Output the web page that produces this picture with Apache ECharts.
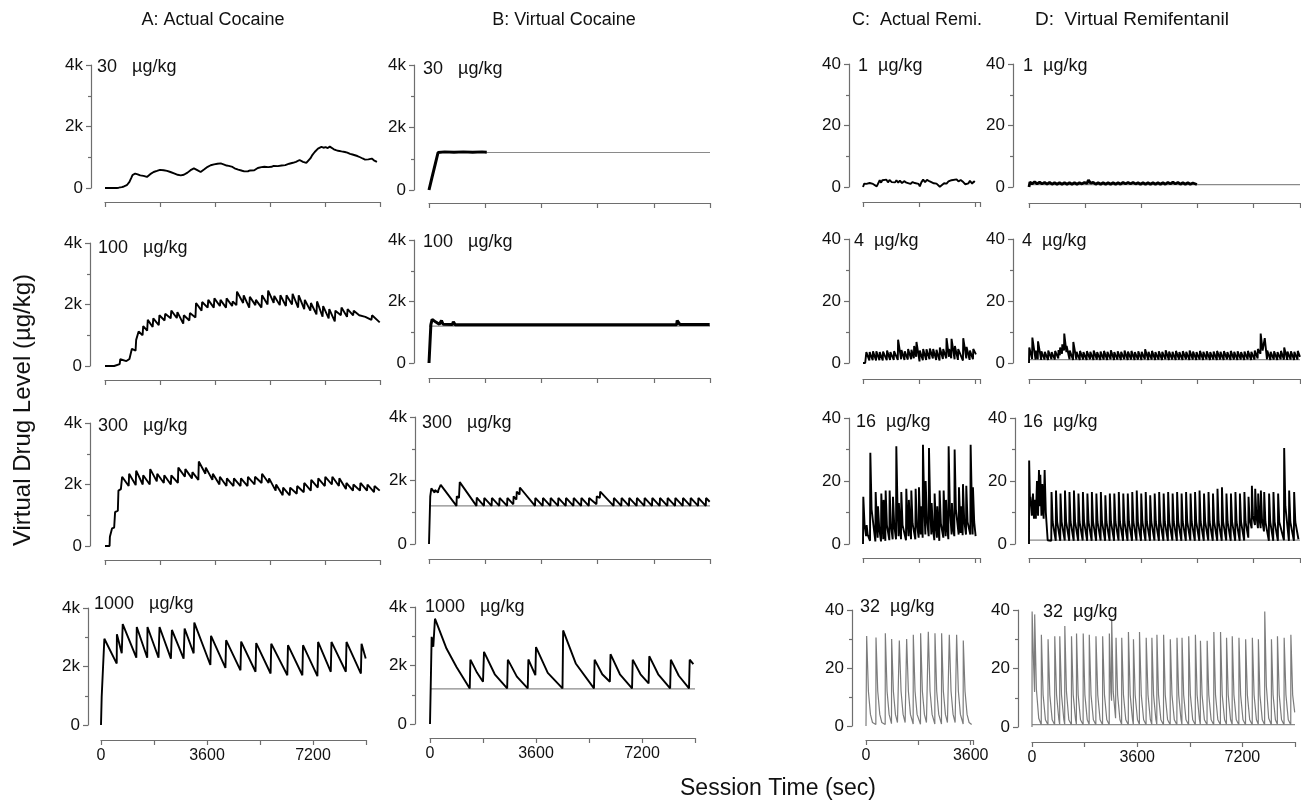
<!DOCTYPE html>
<html><head><meta charset="utf-8">
<script src="https://cdn.jsdelivr.net/npm/echarts@6.0.0/dist/echarts.min.js"></script>
<style>html,body{margin:0;padding:0;background:#fff}#c{width:1301px;height:802px}</style>
</head><body><div id="c"></div>
<script>
// ---------------- DATA ----------------
const columnTitles = ['A: Actual Cocaine', 'B: Virtual Cocaine', 'C:  Actual Remi.', 'D:  Virtual Remifentanil'];
const cocaineDoses = ['30', '100', '300', '1000'];
const remiDoses = ['1', '4', '16', '32'];
const unitText = 'µg/kg';
const yTitle = 'Virtual Drug Level (µg/kg)';
const xTitle = 'Session Time (sec)';

// Column A: actual cocaine (t sec, level µg/kg)
const a30 = [[0,0],[384,0],[450,10],[550,30],[620,50],[714,90],[760,140],[800,200],[860,330],[900,420],[933,410],[960,470],[988,470],[1030,430],[1070,445],[1110,400],[1153,410],[1200,380],[1260,395],[1310,350],[1372,360],[1420,420],[1480,450],[1530,470],[1592,520],[1650,510],[1700,555],[1750,560],[1800,590],[1860,555],[1921,576],[1980,540],[2030,555],[2090,500],[2141,520],[2200,480],[2260,475],[2320,450],[2380,430],[2430,450],[2480,410],[2530,440],[2580,430],[2640,480],[2700,500],[2750,540],[2800,580],[2860,610],[2910,640],[2960,590],[3020,580],[3080,530],[3129,520],[3180,560],[3240,600],[3300,640],[3360,690],[3420,720],[3459,740],[3520,730],[3570,770],[3620,760],[3680,790],[3740,770],[3788,800],[3840,750],[3900,760],[3980,730],[4050,720],[4100,690],[4172,685],[4240,640],[4300,620],[4360,600],[4420,580],[4490,560],[4557,540],[4620,560],[4680,545],[4750,570],[4810,590],[4886,576],[4950,610],[5000,650],[5050,630],[5120,680],[5170,660],[5216,690],[5280,700],[5340,680],[5400,700],[5450,690],[5520,720],[5580,705],[5655,710],[5720,740],[5780,730],[5840,760],[5900,745],[5960,780],[6030,790],[6094,800],[6150,820],[6200,810],[6250,850],[6300,880],[6368,910],[6420,870],[6480,850],[6540,830],[6588,815],[6650,870],[6720,960],[6790,1080],[6863,1170],[6920,1230],[6970,1280],[7020,1300],[7083,1337],[7150,1310],[7220,1330],[7290,1300],[7357,1345],[7420,1290],[7490,1260],[7560,1230],[7631,1210],[7690,1220],[7740,1190],[7800,1200],[7851,1170],[7930,1150],[8020,1110],[8100,1090],[8180,1065],[8260,1040],[8350,1000],[8430,960],[8510,924],[8570,950],[8620,930],[8680,960],[8730,956],[8800,900],[8900,850]];
const a100 = [[0,0],[300,0],[310,60],[480,60],[500,220],[700,160],[800,230],[860,220],[880,560],[1000,500],[1020,850],[1080,800],[1100,1120],[1230,1000],[1250,1300],[1380,1150],[1400,1500],[1560,1270],[1580,1550],[1760,1330],[1780,1650],[1950,1480],[1970,1700],[2150,1550],[2170,1800],[2350,1560],[2370,1750],[2560,1380],[2580,1650],[2760,1480],[2780,1720],[2960,1580],[2980,2050],[3160,1800],[3180,2080],[3360,1900],[3380,2150],[3560,1900],[3580,2200],[3760,1950],[3780,2150],[3960,1900],[3980,2200],[4160,1950],[4180,2100],[4300,1980],[4320,2420],[4520,2050],[4540,2300],[4720,1900],[4740,2250],[4920,1980],[4940,2150],[5120,1900],[5140,2300],[5320,2000],[5340,2450],[5520,2050],[5540,2280],[5720,1980],[5740,2300],[5920,1950],[5940,2300],[6120,2000],[6140,2350],[6320,1900],[6340,2300],[6520,1850],[6540,2150],[6720,1800],[6740,2050],[6920,1680],[6940,2100],[7120,1600],[7140,1950],[7320,1550],[7340,1850],[7520,1450],[7540,1800],[7720,1650],[7740,1900],[7920,1600],[7940,1850],[8120,1650],[8140,1800],[8320,1650],[8340,1700],[8520,1600],[8540,1650],[8720,1500],[8740,1650],[8990,1420]];
const a300 = [[0,0],[150,0],[160,300],[220,300],[230,570],[300,600],[330,1100],[420,1150],[440,1800],[520,1850],[560,2250],[775,1950],[790,2350],[1005,1980],[1020,2450],[1235,2000],[1250,2300],[1465,2000],[1480,2500],[1695,2100],[1710,2350],[1925,2050],[1940,2300],[2155,2000],[2170,2300],[2385,2050],[2400,2550],[2615,2250],[2630,2500],[2845,2200],[2860,2400],[3055,2150],[3070,2750],[3285,2350],[3300,2550],[3515,2150],[3530,2350],[3745,2000],[3760,2250],[3975,1950],[3990,2200],[4205,1950],[4220,2200],[4435,1950],[4450,2200],[4665,1950],[4680,2250],[4895,2000],[4910,2250],[5125,2050],[5140,2350],[5355,2050],[5370,2200],[5585,1800],[5600,2000],[5815,1650],[5830,1900],[6045,1650],[6060,1900],[6275,1700],[6290,1950],[6505,1750],[6520,2050],[6735,1800],[6750,2150],[6965,1900],[6980,2200],[7195,1950],[7210,2250],[7425,2000],[7440,2250],[7655,1950],[7670,2200],[7885,1850],[7900,2050],[8115,1800],[8130,2000],[8345,1800],[8360,2050],[8575,1800],[8590,2000],[8805,1750],[8820,1950],[8990,1800]];
const a1000 = [[0,0],[10,0],[23,960],[80,960],[114,2950],[534,2100],[540,3100],[704,2450],[738,3450],[1200,2300],[1215,3350],[1570,2300],[1579,3350],[1954,2300],[1988,3350],[2374,2270],[2408,3250],[2806,2270],[2840,3300],[3147,2450],[3169,3500],[3715,2050],[3737,3050],[4226,1950],[4249,2900],[4737,1870],[4760,2850],[5248,1820],[5271,2800],[5760,1760],[5782,2780],[6328,1700],[6350,2730],[6839,1700],[6861,2730],[7350,1670],[7373,2840],[7804,1820],[7827,2840],[8316,1820],[8338,2840],[8827,1760],[8849,2780],[8990,2270]];

// Column B: virtual cocaine
const b30 = [[0,0],[100,420],[200,830],[290,1200],[500,1220],[800,1210],[1100,1220],[1400,1210],[1700,1220],[1850,1210]];
const b100 = [[0,0],[60,1250],[100,1420],[150,1460],[220,1330],[260,1390],[330,1260],[370,1250],[400,1380],[450,1260],[750,1250],[780,1340],[840,1240],[7930,1240],[7950,1380],[8040,1250],[8990,1250]];
const b300 = [[0,0],[40,1500],[75,1750],[180,1620],[190,1700],[290,1620],[300,1700],[375,1860],[880,1200],[890,1500],[960,1450],[985,1950],[1520,1200],[1530,1460],[1760,1200],[1770,1450],[2005,1200],[2015,1450],[2250,1200],[2260,1450],[2500,1200],[2510,1450],[2700,1250],[2710,1500],[2800,1400],[2810,1650],[2900,1560],[2910,1780],[3395,1200],[3405,1450],[3641,1200],[3651,1450],[3887,1200],[3897,1450],[4133,1200],[4143,1450],[4379,1200],[4389,1450],[4625,1200],[4635,1450],[4871,1200],[4881,1450],[5117,1200],[5127,1450],[5363,1250],[5373,1500],[5470,1450],[5484,1650],[5912,1200],[5922,1450],[6158,1200],[6168,1450],[6404,1200],[6414,1450],[6650,1200],[6660,1450],[6896,1200],[6906,1450],[7142,1200],[7152,1450],[7388,1200],[7398,1450],[7634,1200],[7644,1450],[7880,1200],[7890,1450],[8126,1200],[8136,1450],[8372,1200],[8382,1450],[8618,1200],[8628,1450],[8864,1200],[8874,1450],[8990,1330]];
const b1000 = [[0,0],[20,1050],[40,1050],[56,2980],[112,2640],[160,2640],[169,3600],[560,2580],[900,1950],[1350,1216],[1372,2200],[1600,1750],[1800,1443],[1834,2466],[2200,1700],[2621,1216],[2644,2200],[2950,1620],[3319,1216],[3341,2205],[3578,1670],[3600,2630],[4000,1750],[4500,1216],[4522,3200],[4950,2070],[5569,1216],[5591,2200],[5850,1700],[6109,1443],[6131,2386],[6450,1700],[6862,1216],[6885,2200],[7150,1700],[7425,1386],[7447,2318],[7750,1700],[8156,1216],[8179,2200],[8450,1650],[8797,1216],[8820,2200],[8944,2045]];
const bRef30 = [[290,1200],[9000,1200]];
const bRef = [[0,1200],[9000,1200]];

// Column C: actual remifentanil
const c1 = [[0,0],[40,1.1],[80,0.6],[110,1.0],[160,0.7],[214,1.3],[260,0.8],[321,1.0],[380,0.4],[440,0.2],[482,0.1],[536,2.2],[580,1.4],[620,2.2],[680,1.6],[750,2.4],[800,1.5],[850,2.3],[920,1.6],[980,2.2],[1030,1.5],[1071,2.2],[1130,1.4],[1180,2.1],[1250,1.3],[1320,1.9],[1392,1.4],[1450,1.8],[1520,1.0],[1590,1.6],[1660,1.3],[1720,0.7],[1780,1.0],[1821,0.2],[1870,1.5],[1928,2.4],[1990,1.6],[2050,2.3],[2142,1.8],[2200,2.2],[2270,1.2],[2356,1.1],[2410,0.5],[2463,0.1],[2520,0.6],[2600,1.2],[2678,1.1],[2740,1.8],[2838,2.2],[2900,1.6],[2999,2.5],[3060,1.8],[3130,2.3],[3213,1.6],[3280,0.9],[3320,0.3],[3380,1.2],[3427,2.0],[3500,1.1],[3550,1.8],[3588,1.6]];
const c4 = [[0,0],[70,0],[100,0.3],[107,3.5],[204,0.8],[214,3.5],[311,0.9],[321,3.8],[418,0.8],[428,3.8],[526,0.9],[536,3.5],[633,0.8],[643,3.7],[761,0.9],[771,4.0],[868,1.0],[878,3.5],[986,1.0],[996,3.8],[1115,1.0],[1125,7.5],[1222,1.2],[1232,4.2],[1329,1.0],[1339,3.8],[1436,1.1],[1446,4.5],[1543,1.2],[1553,4.3],[1629,1.5],[1639,5.5],[1704,2.0],[1714,6.8],[1811,0.5],[1821,4.0],[1918,0.9],[1928,4.5],[2025,1.0],[2035,4.4],[2132,1.2],[2142,4.7],[2239,1.5],[2249,4.5],[2346,1.0],[2356,4.3],[2453,0.8],[2463,5.0],[2560,1.3],[2570,4.5],[2668,1.5],[2678,8.0],[2753,2.0],[2763,4.5],[2828,1.5],[2838,7.8],[2935,1.2],[2945,5.5],[3042,1.0],[3052,4.5],[3203,0.8],[3213,8.0],[3310,1.5],[3320,5.2],[3417,1.0],[3427,4.0],[3524,1.2],[3534,4.5],[3620,2.8]];
const c16 = [[0,0],[10,15],[50,6],[100,2.5],[107,2.5],[117,6],[150,3],[225,1],[235,29],[275,11],[396,0.8],[406,16.5],[446,6],[470,2],[480,12],[520,5],[577,0.8],[587,16],[627,6],[650,1.5],[660,14],[700,5],[716,1],[726,17],[766,6],[844,1.2],[854,17],[894,6],[951,1.5],[961,15],[1001,6],[1058,1.5],[1068,31],[1108,11],[1140,2.5],[1150,13],[1190,5],[1218,1.5],[1228,16.5],[1268,6],[1378,1.2],[1388,17.5],[1428,6.5],[1460,2.5],[1470,14],[1510,5.5],[1539,1.5],[1549,17],[1589,6.5],[1677,1.5],[1687,17.5],[1727,6.5],[1784,2],[1794,18],[1834,7],[1850,3],[1860,12],[1900,5],[1912,2],[1922,31.5],[1962,12],[1998,3],[2008,20],[2048,8],[2105,2.5],[2115,30.5],[2155,11],[2190,3],[2200,13],[2240,5],[2286,1.2],[2296,16],[2336,6],[2370,2],[2380,12],[2420,4.5],[2446,1],[2456,17],[2496,6.5],[2575,2],[2585,17],[2625,6.5],[2650,2.5],[2660,14],[2700,5.5],[2735,1.5],[2745,31],[2785,11],[2840,3],[2850,13],[2890,5],[2927,2.5],[2937,30],[2977,11],[3066,3],[3076,18],[3116,7],[3130,3.5],[3140,12],[3180,5],[3194,2.8],[3204,19],[3244,7.5],[3301,3],[3311,18.5],[3351,7],[3440,3],[3450,31.5],[3490,12],[3514,3],[3524,18],[3564,7],[3610,2.5]];
const c32 = [[0,0],[18,0],[23,31],[83,12],[153,4],[223,1.2],[339,0.5],[344,30.5],[404,12],[474,4],[544,1.2],[660,0.5],[665,32],[725,12],[795,4],[877,0.8],[882,30],[942,12],[1012,4],[1082,1.2],[1141,0.6],[1146,29.5],[1206,12],[1276,4],[1346,1.2],[1393,0.7],[1398,30],[1458,12],[1528,4],[1622,0.7],[1627,31.5],[1687,12],[1757,4],[1874,0.6],[1879,32],[1939,12],[2009,4],[2079,1.2],[2138,0.6],[2143,32.5],[2203,12],[2273,4],[2367,0.7],[2372,32],[2432,12],[2502,4],[2596,0.7],[2601,32],[2661,12],[2731,4],[2801,1.2],[2860,0.6],[2865,31.5],[2925,12],[2995,4],[3065,1.2],[3112,0.7],[3117,31.5],[3177,12],[3247,4],[3341,0.7],[3346,29.5],[3406,12],[3476,4],[3546,1.2],[3633,0.5]];

// Column D: virtual remifentanil
const d1 = [[0,0],[30,1.6],[100,1.0],[180,1.7],[260,1.0],[340,1.6],[420,1.0],[500,1.5],[580,0.9],[660,1.5],[740,0.9],[820,1.4],[900,0.9],[980,1.4],[1060,0.9],[1140,1.4],[1220,0.9],[1300,1.4],[1380,0.9],[1460,1.4],[1540,0.9],[1620,1.4],[1700,1.0],[1780,1.5],[1860,1.1],[1908,2.3],[1980,1.2],[2060,1.5],[2140,0.9],[2220,1.4],[2300,0.9],[2380,1.4],[2460,0.9],[2540,1.4],[2620,0.9],[2700,1.4],[2780,0.9],[2860,1.4],[2940,0.9],[3020,1.5],[3100,1.0],[3180,1.5],[3260,1.0],[3340,1.5],[3420,1.0],[3500,1.4],[3580,0.9],[3660,1.4],[3740,0.9],[3820,1.4],[3900,0.9],[3980,1.4],[4060,0.9],[4140,1.4],[4220,0.9],[4300,1.4],[4380,0.9],[4460,1.5],[4540,1.0],[4620,1.6],[4700,1.0],[4780,1.5],[4860,0.9],[4940,1.4],[5020,0.9],[5100,1.4],[5180,0.9],[5260,1.3],[5390,0.8]];
const d4 = [[0,0],[8,5.0],[100,1.3],[108,8.2],[210,1.1],[218,4.0],[282,1.2],[290,7.0],[390,1.0],[398,3.8],[500,1.1],[508,3.6],[610,1.0],[618,4.0],[720,1.2],[728,3.5],[830,1.1],[838,3.9],[940,1.5],[948,4.2],[990,2.5],[998,5.0],[1060,3.0],[1068,6.0],[1124,4.0],[1132,9.5],[1200,3.5],[1208,5.5],[1300,1.2],[1308,4.0],[1415,1.0],[1423,6.8],[1520,1.1],[1528,3.6],[1630,1.0],[1638,3.9],[1740,1.1],[1748,3.5],[1850,1.0],[1858,3.8],[1960,1.2],[1968,3.6],[2070,1.0],[2078,4.0],[2180,1.1],[2188,3.5],[2290,1.0],[2298,3.7],[2400,1.1],[2408,3.9],[2510,1.0],[2518,3.6],[2620,1.2],[2628,4.1],[2730,1.0],[2738,3.5],[2840,1.1],[2848,3.8],[2950,1.0],[2958,3.6],[3060,1.2],[3068,4.0],[3170,1.0],[3178,3.7],[3280,1.1],[3288,3.9],[3390,1.0],[3398,3.5],[3500,1.1],[3508,3.8],[3610,1.0],[3618,3.6],[3720,1.2],[3728,4.4],[3830,1.0],[3838,3.6],[3940,1.1],[3948,3.9],[4050,1.0],[4058,3.5],[4160,1.1],[4168,3.8],[4270,1.0],[4278,3.6],[4380,1.2],[4388,4.1],[4490,1.0],[4498,3.7],[4600,1.1],[4608,3.6],[4710,1.0],[4718,3.9],[4820,1.1],[4828,3.5],[4930,1.0],[4938,3.8],[5040,1.2],[5048,3.6],[5150,1.0],[5158,4.0],[5260,1.1],[5268,3.7],[5370,1.0],[5378,3.5],[5480,1.1],[5488,3.9],[5590,1.0],[5598,3.6],[5700,1.2],[5708,3.8],[5810,1.0],[5818,3.5],[5920,1.1],[5928,3.7],[6030,1.0],[6038,3.9],[6140,1.1],[6148,3.6],[6250,1.0],[6258,3.8],[6360,1.2],[6368,3.5],[6470,1.0],[6478,3.9],[6580,1.1],[6588,3.6],[6690,1.0],[6698,3.8],[6800,1.1],[6808,3.5],[6910,1.0],[6918,3.7],[7020,1.2],[7028,3.9],[7130,1.0],[7138,3.6],[7240,1.1],[7248,4.0],[7340,1.5],[7348,4.5],[7430,3.0],[7438,9.5],[7500,4.0],[7560,3.5],[7568,8.0],[7640,1.2],[7648,4.0],[7750,1.0],[7758,3.6],[7860,1.1],[7868,3.8],[7970,1.0],[7978,3.5],[8080,1.2],[8088,3.9],[8185,1.1],[8193,5.0],[8290,1.0],[8298,3.7],[8400,1.1],[8408,3.8],[8510,1.0],[8518,3.6],[8620,1.1],[8628,3.9],[8700,2.0]];
const d16 = [[0,0],[5,26.5],[35,12],[43,15],[90,9],[128,16],[160,8],[181,14],[220,8],[256,20],[290,9],[320,23.5],[345,12],[363,22],[400,9],[427,19],[470,8],[502,23.5],[540,10],[600,1.2],[715,1.0],[723,16.5],[760,7],[859,1.0],[867,17],[904,7],[1003,1.0],[1011,16],[1048,7],[1147,1.1],[1155,17],[1192,7],[1291,1.0],[1299,16.5],[1336,7],[1435,1.0],[1443,17],[1480,7],[1579,1.0],[1587,16],[1624,7],[1723,1.1],[1731,16.5],[1768,7],[1867,1.0],[1875,16],[1912,7],[2011,1.0],[2019,16.5],[2056,7],[2155,1.0],[2163,16],[2200,7],[2299,1.1],[2307,16.5],[2344,7],[2443,1.0],[2451,15.5],[2488,7],[2587,1.0],[2595,16],[2632,7],[2731,1.0],[2739,16],[2776,7],[2875,1.1],[2883,16.5],[2920,7],[3019,1.0],[3027,16],[3064,7],[3163,1.0],[3171,16],[3208,7],[3307,1.0],[3315,16.5],[3352,7],[3451,1.1],[3459,17],[3496,7],[3595,1.0],[3603,16],[3640,7],[3739,1.0],[3747,16.5],[3784,7],[3883,1.0],[3891,15.5],[3928,7],[4027,1.1],[4035,16],[4072,7],[4171,1.0],[4179,16.5],[4216,7],[4315,1.0],[4323,16],[4360,7],[4459,1.0],[4467,16.5],[4504,7],[4603,1.1],[4611,16],[4648,7],[4747,1.0],[4755,16.5],[4792,7],[4891,1.0],[4899,16],[4936,7],[5035,1.0],[5043,16.5],[5080,7],[5179,1.1],[5187,16],[5224,7],[5323,1.0],[5331,16.5],[5368,7],[5467,1.0],[5475,17],[5512,7],[5611,1.0],[5619,16],[5656,7],[5755,1.1],[5763,16.5],[5800,7],[5899,1.0],[5907,16],[5944,7],[6043,1.0],[6051,17.5],[6088,7],[6187,1.0],[6195,18],[6232,7],[6331,1.1],[6339,16],[6376,7],[6475,1.0],[6483,16],[6520,7],[6619,1.0],[6627,16.5],[6664,7],[6763,1.0],[6771,16],[6808,7],[6907,1.1],[6915,16.5],[6952,7],[7040,2.0],[7048,15],[7080,8],[7148,5],[7156,18.5],[7190,9],[7254,6],[7262,17.5],[7300,9],[7350,5],[7358,16],[7400,8],[7436,5],[7444,17],[7480,8],[7543,4],[7551,16.5],[7590,7],[7700,1.0],[7708,16],[7745,7],[7840,1.0],[7848,16.5],[7885,7],[7990,1.0],[7998,16],[8035,7],[8184,1.2],[8192,30.5],[8230,12],[8344,1.0],[8352,17],[8390,7],[8504,1.0],[8512,16.5],[8550,7],[8650,1.5]];
const d32 = [[0,0],[4,39.5],[60,20],[88,12],[92,38.5],[150,13],[230,3],[317,0.8],[321,31.5],[380,11],[460,2.5],[546,0.8],[550,30],[610,11],[690,2.5],[775,0.8],[779,31],[840,11],[920,2.5],[947,0.9],[951,31],[1010,11],[1090,2.5],[1119,0.9],[1123,34.5],[1180,12],[1260,2.5],[1348,0.8],[1352,31],[1410,11],[1490,2.5],[1520,0.9],[1524,32],[1580,11],[1660,2.5],[1749,0.8],[1753,32],[1810,11],[1890,2.5],[1956,0.9],[1960,31.5],[2020,11],[2100,2.5],[2185,0.8],[2189,31],[2250,11],[2330,2.5],[2414,0.8],[2418,31],[2480,11],[2560,2.5],[2643,0.8],[2647,32],[2700,12],[2723,9],[2727,37],[2780,12],[2860,3],[2872,2.5],[2876,30.5],[2930,11],[3010,2.5],[3067,0.9],[3071,30.5],[3130,11],[3210,2.5],[3296,0.8],[3300,32.5],[3360,11],[3440,2.5],[3468,0.9],[3472,30],[3530,11],[3610,2.5],[3675,0.9],[3679,32.5],[3740,11],[3820,2.5],[3904,0.8],[3908,30.5],[3970,11],[4050,2.5],[4099,0.9],[4103,30.5],[4160,11],[4240,2.5],[4271,0.9],[4275,31.5],[4330,11],[4410,2.5],[4500,0.8],[4504,31.5],[4560,11],[4640,2.5],[4729,0.8],[4733,30],[4790,11],[4870,2.5],[4958,0.8],[4962,30.5],[5020,11],[5100,2.5],[5130,0.9],[5134,30.5],[5190,11],[5270,2.5],[5359,0.8],[5363,31],[5420,11],[5500,2.5],[5588,0.8],[5592,31.5],[5650,11],[5730,2.5],[5760,0.9],[5764,29.5],[5820,11],[5900,2.5],[5990,0.8],[5994,29.5],[6050,11],[6130,2.5],[6219,0.8],[6223,32.5],[6280,11],[6360,2.5],[6448,0.8],[6452,32.5],[6510,11],[6590,2.5],[6654,0.9],[6658,30.5],[6715,11],[6795,2.5],[6849,0.9],[6853,31],[6910,11],[6990,2.5],[7078,0.8],[7082,30.5],[7140,11],[7220,2.5],[7307,0.8],[7311,30],[7370,11],[7450,2.5],[7537,0.8],[7541,30.5],[7600,11],[7680,2.5],[7743,0.9],[7747,30],[7800,11],[7880,2.5],[7961,0.8],[7965,39.5],[8020,14],[8100,3],[8190,0.8],[8194,30],[8250,11],[8330,2.5],[8396,0.9],[8400,31],[8460,11],[8540,2.5],[8625,0.8],[8629,30.5],[8690,11],[8770,2.5],[8855,0.8],[8859,31.5],[8920,11],[8990,5]];
const dRef1 = [[0,0.8],[8700,0.8]];
const dRef4 = [[0,1.1],[8700,1.1]];
const dRef16 = [[0,1.25],[8700,1.25]];
const dRef32 = [[0,0.8],[9000,0.8]];

// ---------------- LAYOUT ----------------
const panelData = [a30, a100, a300, a1000, b30, b100, b300, b1000, c1, c4, c16, c32, d1, d4, d16, d32];
const panelRef = {4: bRef30, 5: bRef, 6: bRef, 7: bRef, 12: dRef1, 13: dRef4, 14: dRef16, 15: dRef32};
const layout = [
  {l:105,t:65,w:275,h:123,yo:14,xo:14,xmax:9000},
  {l:105,t:243,w:275,h:123,yo:15,xo:14,xmax:9000},
  {l:105,t:423,w:275,h:123,yo:15,xo:14,xmax:9000},
  {l:101,t:608,w:265,h:117,yo:13,xo:15,xmax:9000,lab:true},
  {l:429,t:65,w:281,h:125,yo:15,xo:13,xmax:9000},
  {l:429,t:240,w:281,h:123,yo:15,xo:15,xmax:9000},
  {l:429,t:417,w:281,h:127,yo:14,xo:15,xmax:9000},
  {l:430,t:607,w:265,h:117,yo:15,xo:14,xmax:9000,lab:true},
  {l:863,t:64,w:117,h:123,yo:14,xo:15,xmax:3750},
  {l:863,t:239,w:117,h:124,yo:14,xo:16,xmax:3750},
  {l:863,t:418,w:117,h:126,yo:14,xo:14,xmax:3750},
  {l:866,t:610,w:107,h:116,yo:14,xo:14,xmax:3680,lab:true},
  {l:1029,t:64,w:271,h:123,yo:16,xo:16,xmax:8700},
  {l:1029,t:239,w:271,h:124,yo:16,xo:16,xmax:8700},
  {l:1029,t:418,w:271,h:126,yo:14,xo:14,xmax:8700},
  {l:1032,t:610,w:263,h:117,yo:14,xo:15,xmax:9000,lab:true}
];
const doseLabelPos = [[97,67],[98,248],[98,426],[94,604],[423,69],[423,242],[422,423],[425,607],[858,66],[854,241],[856,422],[860,607],[1023,66],[1022,241],[1023,422],[1043,612]];
const titlePos = [[213,20],[564,20],[917,20],[1132,20]];

const FONT = '"Liberation Sans", Arial, sans-serif';
const AXC = '#6e6e6e';

const grids = [], xAxes = [], yAxes = [], series = [], graphics = [];
layout.forEach((p, i) => {
  const isCoc = i < 8;
  const isGray = (i === 11 || i === 15);
  grids.push({left: p.l, top: p.t, width: p.w, height: p.h, containLabel: false});
  xAxes.push({
    gridIndex: i, type: 'value', min: 0, max: p.xmax, interval: 1800, offset: p.xo,
    axisLine: {show: true, onZero: false, lineStyle: {color: AXC, width: 1.2}},
    axisTick: {show: true, length: 5, lineStyle: {color: AXC, width: 1.2}},
    splitLine: {show: false},
    axisLabel: {show: !!p.lab, fontSize: 16, color: '#111', fontFamily: FONT, margin: 8,
      formatter: v => (v % 3600 === 0 && v < 9000) ? String(v) : ''}
  });
  yAxes.push({
    gridIndex: i, type: 'value', min: 0, max: isCoc ? 4000 : 40, interval: isCoc ? 2000 : 20, offset: p.yo,
    axisLine: {show: true, onZero: false, lineStyle: {color: AXC, width: 1.2}},
    axisTick: {show: true, length: 5, lineStyle: {color: AXC, width: 1.2}},
    minorTick: {show: true, splitNumber: 2, length: 3, lineStyle: {color: AXC, width: 1.2}},
    splitLine: {show: false},
    axisLabel: {fontSize: 17, color: '#111', fontFamily: FONT, margin: 8,
      formatter: v => isCoc ? (v === 0 ? '0' : (v / 1000) + 'k') : String(v)}
  });
  if (panelRef[i]) {
    series.push({type: 'line', xAxisIndex: i, yAxisIndex: i, data: panelRef[i], showSymbol: false,
      lineStyle: {color: '#8a8a8a', width: 1.2}, z: 1, silent: true});
  }
  const thick = (i === 4 || i === 5) ? 3 : (i === 12 ? 2.8 : (isGray ? 1.2 : 1.9));
  series.push({type: 'line', xAxisIndex: i, yAxisIndex: i, data: panelData[i], showSymbol: false,
    lineStyle: {color: isGray ? '#7c7c7c' : '#000', width: thick}, z: 2, silent: true});
  const dose = isCoc ? cocaineDoses[i % 4] + '   ' : remiDoses[i % 4] + '  ';
  graphics.push({type: 'text', x: doseLabelPos[i][0], y: doseLabelPos[i][1], z: 10,
    style: {text: dose + unitText, fill: '#111', font: '18px ' + FONT, align: 'left', verticalAlign: 'middle'}});
});
columnTitles.forEach((t, k) => {
  graphics.push({type: 'text', x: titlePos[k][0], y: titlePos[k][1],
    style: {text: t, fill: '#111', font: (k === 3 ? '19px ' : '18px ') + FONT, align: 'center', verticalAlign: 'middle'}});
});
graphics.push({type: 'text', x: 23, y: 410, rotation: Math.PI / 2,
  style: {text: yTitle, fill: '#111', font: '24px ' + FONT, align: 'center', verticalAlign: 'middle'}});
graphics.push({type: 'text', x: 778, y: 789,
  style: {text: xTitle, fill: '#111', font: '23px ' + FONT, align: 'center', verticalAlign: 'middle'}});

const chart = echarts.init(document.getElementById('c'), null, {renderer: 'canvas', width: 1301, height: 802});
chart.setOption({
  animation: false,
  backgroundColor: '#fff',
  grid: grids, xAxis: xAxes, yAxis: yAxes, series: series, graphic: graphics
});
</script></body></html>
